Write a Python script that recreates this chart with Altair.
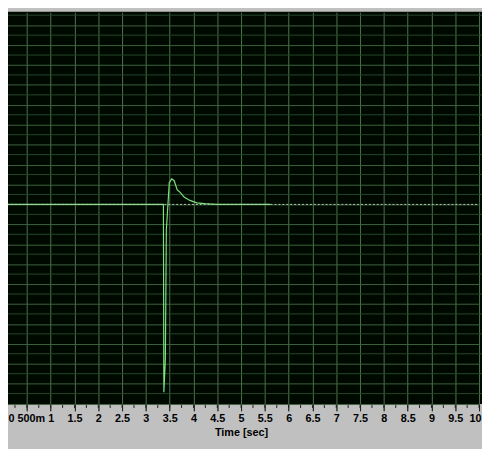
import altair as alt
import pandas as pd

# ---- data ----
time_s = [0.0, 1.0, 2.0, 3.0, 3.368, 3.378, 3.409, 3.430, 3.492, 3.543, 3.595,
          3.657, 3.725, 3.802, 3.926, 4.070, 4.236, 4.483, 5.0, 5.62]
signal = [0.0, 0.0, 0.0, 0.0, 0.0, -9.43, -7.80, -1.28, 1.09, 1.28, 1.19,
          0.74, 0.59, 0.37, 0.20, 0.08, 0.035, 0.0, 0.0, 0.0]

major_x = [i * 0.5 for i in range(21)]          # 0 .. 10 step 0.5
minor_x = [i * 0.25 for i in range(41)]         # minor ticks
major_y = [float(v) for v in range(-10, 11)]    # bright horizontal grid
minor_y = [v + 0.5 for v in range(-10, 10)]     # dim horizontal grid

sig_df = pd.DataFrame({"t": time_s, "v": signal})
minor_y_df = pd.DataFrame({"v": minor_y})
minor_x_df = pd.DataFrame({"t": minor_x})
zero_df = pd.DataFrame({"t": [0.0, 10.0], "v": [0.0, 0.0]})

W, H = 482, 399
xscale = alt.Scale(domain=[0, 10], range=[-5, 479], nice=False, zero=False)
yscale = alt.Scale(domain=[-10, 10], range=[398.5, -6.5], nice=False, zero=False)

x_axis = alt.Axis(
    values=major_x,
    labelExpr="datum.value == 0.5 ? '500m' : format(datum.value, '~g')",
    labelOffset={"condition": [{"test": "datum.value == 0", "value": 8},
                               {"test": "datum.value == 0.5", "value": 4},
                               {"test": "datum.value == 10", "value": -4}],
                 "value": 0},
    grid=True, gridColor="#4e744e", gridOpacity=1, gridWidth=1,
    domain=False, ticks=True, tickSize=7, tickColor="#202020", tickOffset=0,
    labelFont="Liberation Sans", labelFontWeight="bold", labelFontSize=11,
    labelColor="#000000", labelPadding=2, labelFlush=False, labelOverlap=False,
    title="Time [sec]", titleFont="Liberation Sans", titleFontWeight="bold",
    titleFontSize=11, titleColor="#000000", titlePadding=3,
)
y_axis = alt.Axis(
    values=major_y, grid=True, gridColor="#3d633d", gridOpacity=1,
    labels=False, ticks=False, domain=False, title=None,
)

dim_grid = alt.Chart(minor_y_df).mark_rule(color="#26462a", strokeWidth=1).encode(
    y=alt.Y("v:Q", scale=yscale, axis=y_axis)
)

minor_ticks = alt.Chart(minor_x_df).mark_rule(color="#202020", strokeWidth=1, clip=False).encode(
    x=alt.X("t:Q", scale=xscale, axis=x_axis),
    y=alt.value(H + 1), y2=alt.value(H + 4),
)

sig = alt.Chart(sig_df).mark_line(color="#7ee07e", strokeWidth=1.2, clip=True).encode(
    x=alt.X("t:Q", scale=xscale, axis=x_axis),
    y=alt.Y("v:Q", scale=yscale, axis=y_axis),
)

zero_line = alt.Chart(zero_df).mark_line(color="#b4c8b4", strokeWidth=1, strokeDash=[2, 2], clip=True).encode(
    x=alt.X("t:Q", scale=xscale, axis=x_axis),
    y=alt.Y("v:Q", scale=yscale, axis=y_axis),
)

chart = alt.layer(dim_grid, minor_ticks, sig, zero_line).properties(
    width=W, height=H,
    padding={"left": 0, "top": 0, "right": 0, "bottom": 42},
    autosize=alt.AutoSizeParams(type="none"),
    background="#c0c0c0",
).configure_view(fill="#000900", stroke=None)

chart.save("out.html", embed_options={"renderer": "svg", "actions": False})
